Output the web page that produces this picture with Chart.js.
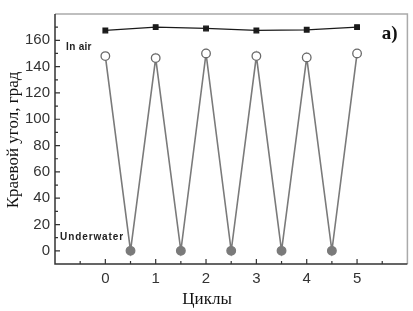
<!DOCTYPE html>
<html lang="ru">
  <head>
    <meta charset="UTF-8" />
    <title>Краевой угол</title>
    <script src="https://cdn.jsdelivr.net/npm/chart.js"></script>
    <style>
      html, body { margin: 0; padding: 0; background: #fff; }
      #wrap { width: 413px; height: 311px; }
    </style>
  </head>
  <body>
    <div id="wrap"><canvas id="angleChart" width="413" height="311"></canvas></div>

    <script>
      // данные
      const cycles = [0, 1, 2, 3, 4, 5];
      const inAir = [167.5, 170, 169, 167.5, 168, 170];
      const afterDry = [148, 146.5, 150, 148, 147, 150];
      const underwaterX = [0.5, 1.5, 2.5, 3.5, 4.5];
      const underwater = [0, 0, 0, 0, 0];

      const xTicks = [0, 1, 2, 3, 4, 5];
      const xMinor = [-0.5, 0.5, 1.5, 2.5, 3.5, 4.5, 5.5];
      const yTicks = [0, 20, 40, 60, 80, 100, 120, 140, 160];
      const yMinor = [10, 30, 50, 70, 90, 110, 130, 150, 170];

      // зигзаг: воздух -> вода -> воздух ...
      const zigzag = [];
      cycles.forEach((c, i) => {
        zigzag.push({ x: c, y: afterDry[i], wet: false });
        if (i < underwaterX.length) {
          zigzag.push({ x: underwaterX[i], y: underwater[i], wet: true });
        }
      });

      const gray = "#7a7a7a";

      // рамка, внутренние засечки и подписи
      const decor = {
        id: "decor",
        afterDraw(chart) {
          const ctx = chart.ctx;
          const a = chart.chartArea;
          const xs = chart.scales.x;
          const ys = chart.scales.y;
          ctx.save();

          ctx.strokeStyle = "#aaaaaa";
          ctx.lineWidth = 1.5;
          ctx.beginPath();
          ctx.moveTo(a.left, a.top);
          ctx.lineTo(a.right, a.top);
          ctx.lineTo(a.right, a.bottom);
          ctx.stroke();

          ctx.strokeStyle = "#333";
          ctx.lineWidth = 1.5;
          ctx.beginPath();
          ctx.moveTo(a.left, a.top);
          ctx.lineTo(a.left, a.bottom);
          ctx.lineTo(a.right, a.bottom);
          ctx.stroke();

          ctx.lineWidth = 1.2;
          ctx.beginPath();
          xTicks.forEach((v) => {
            const px = xs.getPixelForValue(v);
            ctx.moveTo(px, a.bottom);
            ctx.lineTo(px, a.bottom - 5);
          });
          xMinor.forEach((v) => {
            const px = xs.getPixelForValue(v);
            ctx.moveTo(px, a.bottom);
            ctx.lineTo(px, a.bottom - 3);
          });
          yTicks.forEach((v) => {
            const py = ys.getPixelForValue(v);
            ctx.moveTo(a.left, py);
            ctx.lineTo(a.left + 5, py);
          });
          yMinor.forEach((v) => {
            const py = ys.getPixelForValue(v);
            ctx.moveTo(a.left, py);
            ctx.lineTo(a.left + 3, py);
          });
          ctx.stroke();

          ctx.fillStyle = "#222";
          ctx.letterSpacing = "0.3px";
          ctx.font = "bold 10px 'Liberation Sans', Arial, sans-serif";
          ctx.textAlign = "left";
          ctx.textBaseline = "alphabetic";
          ctx.fillText("In air", xs.getPixelForValue(-0.78), ys.getPixelForValue(152.3));
          ctx.letterSpacing = "0.9px";
          ctx.fillText("Underwater", xs.getPixelForValue(-0.9), ys.getPixelForValue(8.2));
          ctx.letterSpacing = "0px";

          ctx.fillStyle = "#111";
          ctx.font = "bold 19px 'Liberation Serif', 'Times New Roman', serif";
          ctx.fillText("a)", xs.getPixelForValue(5.49), ys.getPixelForValue(161));

          ctx.font = "17px 'Liberation Serif', 'Times New Roman', serif";
          ctx.textAlign = "center";
          ctx.fillText("Циклы", xs.getPixelForValue(2.02), 304);

          ctx.translate(14, (a.top + a.bottom) / 2 + 1);
          ctx.rotate(-Math.PI / 2);
          ctx.textBaseline = "middle";
          ctx.fillText("Краевой угол, град", 0, 0);
          ctx.restore();
        },
      };

      new Chart(document.getElementById("angleChart"), {
        type: "line",
        data: {
          datasets: [
            {
              label: "циклы",
              data: zigzag,
              borderColor: gray,
              borderWidth: 1.6,
              pointRadius: 4.3,
              pointBorderWidth: 1.3,
              pointBorderColor: zigzag.map((p) => (p.wet ? gray : "#6a6a6a")),
              pointBackgroundColor: zigzag.map((p) => (p.wet ? gray : "#ffffff")),
              tension: 0,
              order: 2,
            },
            {
              label: "In air",
              data: cycles.map((c, i) => ({ x: c, y: inAir[i] })),
              borderColor: "#1a1a1a",
              borderWidth: 1.2,
              pointStyle: "rect",
              pointRadius: 3.3,
              pointBackgroundColor: "#1a1a1a",
              pointBorderColor: "#1a1a1a",
              tension: 0,
              order: 1,
            },
          ],
        },
        options: {
          responsive: false,
          animation: false,
          layout: { padding: { top: 10, right: 5, left: 0, bottom: 0 } },
          plugins: {
            legend: { display: false },
            tooltip: { enabled: false },
          },
          scales: {
            x: {
              type: "linear",
              min: -1,
              max: 6,
              grid: { display: false, drawTicks: false },
              border: { display: false },
              afterBuildTicks: (s) => { s.ticks = xTicks.map((v) => ({ value: v })); },
              afterFit: (s) => { s.height = 47; },
              ticks: {
                padding: 6,
                color: "#333",
                font: { family: "'Liberation Sans', Arial, sans-serif", size: 15 },
              },
            },
            y: {
              min: -10,
              max: 180,
              grid: { display: false, drawTicks: false },
              border: { display: false },
              afterBuildTicks: (s) => { s.ticks = yTicks.map((v) => ({ value: v })); },
              afterFit: (s) => { s.width = 55; },
              ticks: {
                padding: 5,
                color: "#333",
                font: { family: "'Liberation Sans', Arial, sans-serif", size: 15 },
              },
            },
          },
        },
        plugins: [decor],
      });
    </script>
  </body>
</html>
